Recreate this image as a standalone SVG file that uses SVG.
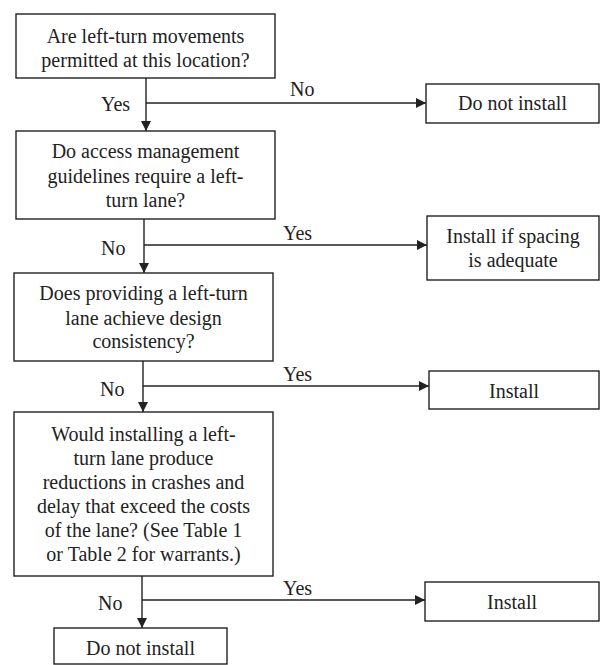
<svg xmlns="http://www.w3.org/2000/svg" width="601" height="665" viewBox="0 0 601 665" font-family="Liberation Serif, Times New Roman, Times, Noto Serif, DejaVu Serif, serif">
<style>
.box{fill:#fff;stroke:#222;stroke-width:1.4}
.t{font-size:20px;fill:#222;text-anchor:middle}
.l{font-size:20px;fill:#222}
.c{fill:none;stroke:#222;stroke-width:1.4}
</style>
<defs>
<marker id="ah" viewBox="0 0 10 10" refX="10" refY="5" markerWidth="10" markerHeight="10" markerUnits="userSpaceOnUse" orient="auto">
<path d="M0,0 L10,5 L0,10 z" fill="#222"/>
</marker>
</defs>
<g id="connectors">
<path class="c" d="M146,78 V131" marker-end="url(#ah)"/>
<path class="c" d="M146,103 H426" marker-end="url(#ah)"/>
<path class="c" d="M144,219 V273" marker-end="url(#ah)"/>
<path class="c" d="M144,245 H427" marker-end="url(#ah)"/>
<path class="c" d="M143,361 V412" marker-end="url(#ah)"/>
<path class="c" d="M143,386 H429" marker-end="url(#ah)"/>
<path class="c" d="M142,576 V628" marker-end="url(#ah)"/>
<path class="c" d="M142,600 H425" marker-end="url(#ah)"/>
<text class="l" x="101" y="111">Yes</text>
<text class="l" x="290" y="96">No</text>
<text class="l" x="101" y="255">No</text>
<text class="l" x="283" y="240">Yes</text>
<text class="l" x="100" y="396">No</text>
<text class="l" x="283" y="381">Yes</text>
<text class="l" x="98" y="610">No</text>
<text class="l" x="283" y="595">Yes</text>
</g>
<g id="q1">
<rect class="box" x="16" y="14" width="259" height="64"/>
<text class="t" x="145.5" y="43">Are left-turn movements</text>
<text class="t" x="145.5" y="67">permitted at this location?</text>
</g>
<g id="dni1">
<rect class="box" x="426" y="84" width="173" height="39"/>
<text class="t" x="512.5" y="110">Do not install</text>
</g>
<g id="q2">
<rect class="box" x="16" y="131" width="259" height="88"/>
<text class="t" x="145.5" y="158">Do access management</text>
<text class="t" x="145.5" y="183">guidelines require a left-</text>
<text class="t" x="145.5" y="207">turn lane?</text>
</g>
<g id="spacing">
<rect class="box" x="427" y="216" width="172" height="64"/>
<text class="t" x="513" y="243">Install if spacing</text>
<text class="t" x="513" y="267">is adequate</text>
</g>
<g id="q3">
<rect class="box" x="14" y="273" width="259" height="88"/>
<text class="t" x="143.5" y="300">Does providing a left-turn</text>
<text class="t" x="143.5" y="325">lane achieve design</text>
<text class="t" x="143.5" y="348">consistency?</text>
</g>
<g id="install1">
<rect class="box" x="429" y="371" width="170" height="38"/>
<text class="t" x="514" y="398">Install</text>
</g>
<g id="q4">
<rect class="box" x="14" y="412" width="259" height="164"/>
<text class="t" x="143.5" y="441">Would installing a left-</text>
<text class="t" x="143.5" y="465">turn lane produce</text>
<text class="t" x="143.5" y="489">reductions in crashes and</text>
<text class="t" x="143.5" y="513">delay that exceed the costs</text>
<text class="t" x="143.5" y="537">of the lane? (See Table 1</text>
<text class="t" x="143.5" y="561">or Table 2 for warrants.)</text>
</g>
<g id="install2">
<rect class="box" x="425" y="582" width="174" height="39"/>
<text class="t" x="512" y="609">Install</text>
</g>
<g id="dni2">
<rect class="box" x="54" y="628" width="173" height="36"/>
<text class="t" x="140.5" y="655">Do not install</text>
</g>
</svg>
